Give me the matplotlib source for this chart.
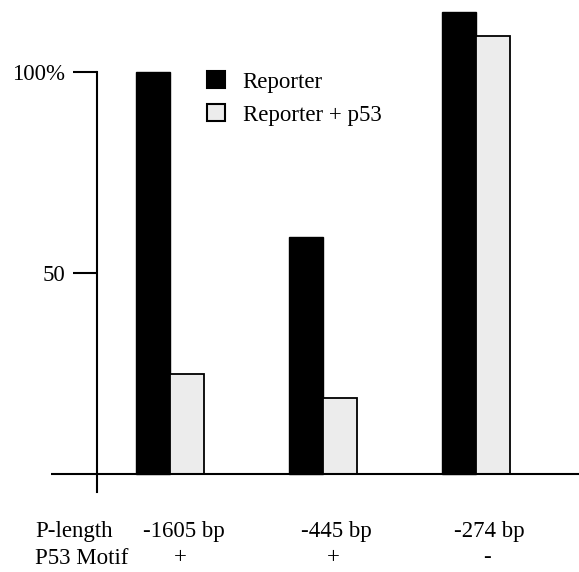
import matplotlib
matplotlib.use("Agg")
import matplotlib.pyplot as plt
import matplotlib.transforms as mtransforms
from matplotlib.patches import Patch
import numpy as np

# 数据
lengths = ["-1605 bp", "-445 bp", "-274 bp"]
motif = ["+", "+", "-"]
reporter = [100, 59, 115]
reporter_p53 = [25, 19, 109]
series_names = ["Reporter", "Reporter + p53"]

plt.rcParams['font.family'] = ['Liberation Serif', 'DejaVu Serif']
fs = 16.5

fig = plt.figure(figsize=(5.79, 5.72), dpi=100)
ax = fig.add_axes([51 / 579, 1 - 492 / 572, 1 - 51 / 579, 492 / 572])

x = np.arange(len(lengths))
w = 0.22
ax.bar(x - w / 2, reporter, w, color='black', edgecolor='black', linewidth=1)
ax.bar(x + w / 2, reporter_p53, w, color='#ececec', edgecolor='black', linewidth=1.3)

ax.set_xlim(-0.778, 2.673)
ax.set_ylim(-4.5, 118)

# 坐标轴样式
for s in ['top', 'right', 'bottom']:
    ax.spines[s].set_visible(False)
ax.spines['left'].set_position(('data', -0.477))
ax.spines['left'].set_bounds(-4.5, 100)
ax.spines['left'].set_linewidth(1.5)
ax.axhline(0, color='black', linewidth=1.5)

ax.set_yticks([100, 50])
ax.set_yticklabels(["100%", "50"], fontsize=fs)
ax.tick_params(axis='y', direction='out', length=17, width=1.5, pad=6)
ax.set_xticks([])

# 底部两行文字
trans = mtransforms.blended_transform_factory(ax.transData, fig.transFigure)
y1 = 1 - 531 / 572
y2 = 1 - 558 / 572
fig.text(35 / 579, y1, "P-length", fontsize=fs, va='center', ha='left')
fig.text(35 / 579, y2, "P53 Motif", fontsize=fs, va='center', ha='left')
for i in range(len(lengths)):
    ax.text(x[i] + 0.09, y1, lengths[i], transform=trans, fontsize=fs, ha='center', va='center')
    ax.text(x[i] + 0.07, y2, motif[i], transform=trans, fontsize=fs, ha='center', va='center')

# 图例
handles = [Patch(facecolor='black', edgecolor='black', linewidth=1.5),
           Patch(facecolor='#ececec', edgecolor='black', linewidth=1.5)]
fig.legend(handles, series_names, loc='upper left', bbox_to_anchor=(207 / 579, 1 - 71 / 572),
           frameon=False, fontsize=fs, handlelength=0.78, handleheight=0.78,
           handletextpad=0.78, labelspacing=0.5, borderpad=0, borderaxespad=0)

fig.savefig("out.png", dpi=100)
